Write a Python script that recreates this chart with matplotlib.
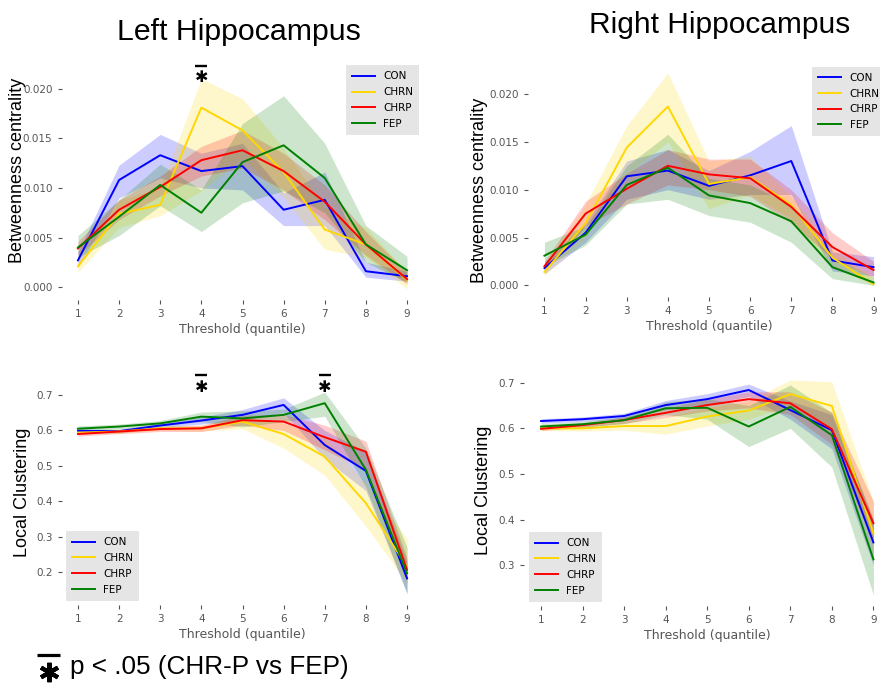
import matplotlib
matplotlib.use("Agg")
import matplotlib.pyplot as plt
import matplotlib.transforms as mtransforms

# ---------------- data ----------------
thresholds = [1, 2, 3, 4, 5, 6, 7, 8, 9]
groups = ["CON", "CHRN", "CHRP", "FEP"]
group_colors = ["blue", "gold", "red", "green"]

# Betweenness centrality, left hippocampus
bc_left_con = [0.0027, 0.0108, 0.0133, 0.0117, 0.0122, 0.0078, 0.0088, 0.0016, 0.0011]
bc_left_con_lo = [0.0020, 0.0090, 0.0110, 0.0100, 0.0098, 0.0062, 0.0062, 0.0010, 0.0006]
bc_left_con_hi = [0.0035, 0.0123, 0.0154, 0.0135, 0.0145, 0.0095, 0.0116, 0.0025, 0.0016]
bc_left_chrn = [0.0021, 0.0074, 0.0083, 0.0181, 0.0158, 0.0116, 0.0058, 0.0043, 0.0007]
bc_left_chrn_lo = [0.0015, 0.0060, 0.0072, 0.0097, 0.0130, 0.0090, 0.0038, 0.0030, -0.0002]
bc_left_chrn_hi = [0.0028, 0.0088, 0.0100, 0.0210, 0.0190, 0.0140, 0.0080, 0.0060, 0.0015]
bc_left_chrp = [0.0039, 0.0078, 0.0101, 0.0128, 0.0138, 0.0117, 0.0086, 0.0043, 0.0008]
bc_left_chrp_lo = [0.0032, 0.0068, 0.0092, 0.0112, 0.0120, 0.0098, 0.0068, 0.0032, 0.0003]
bc_left_chrp_hi = [0.0046, 0.0088, 0.0112, 0.0142, 0.0158, 0.0135, 0.0103, 0.0056, 0.0015]
bc_left_fep = [0.0040, 0.0071, 0.0103, 0.0075, 0.0126, 0.0143, 0.0110, 0.0043, 0.0017]
bc_left_fep_lo = [0.0030, 0.0052, 0.0082, 0.0056, 0.0085, 0.0097, 0.0075, 0.0025, 0.0005]
bc_left_fep_hi = [0.0052, 0.0088, 0.0124, 0.0098, 0.0165, 0.0193, 0.0145, 0.0062, 0.0031]

# Betweenness centrality, right hippocampus
bc_right_con = [0.0018, 0.0055, 0.0114, 0.0120, 0.0104, 0.0115, 0.0130, 0.0026, 0.0019]
bc_right_con_lo = [0.0012, 0.0045, 0.0090, 0.0100, 0.0090, 0.0095, 0.0095, 0.0015, 0.0010]
bc_right_con_hi = [0.0024, 0.0065, 0.0130, 0.0142, 0.0120, 0.0140, 0.0167, 0.0035, 0.0030]
bc_right_chrn = [0.0014, 0.0065, 0.0144, 0.0187, 0.0106, 0.0113, 0.0084, 0.0029, 0.0001]
bc_right_chrn_lo = [0.0010, 0.0050, 0.0115, 0.0150, 0.0080, 0.0095, 0.0070, 0.0020, 0.0000]
bc_right_chrn_hi = [0.0020, 0.0085, 0.0167, 0.0222, 0.0130, 0.0135, 0.0093, 0.0038, 0.0008]
bc_right_chrp = [0.0020, 0.0075, 0.0101, 0.0125, 0.0116, 0.0112, 0.0082, 0.0040, 0.0016]
bc_right_chrp_lo = [0.0015, 0.0062, 0.0085, 0.0105, 0.0100, 0.0093, 0.0065, 0.0028, 0.0008]
bc_right_chrp_hi = [0.0025, 0.0088, 0.0117, 0.0142, 0.0132, 0.0132, 0.0100, 0.0055, 0.0025]
bc_right_fep = [0.0031, 0.0053, 0.0105, 0.0123, 0.0094, 0.0086, 0.0067, 0.0019, 0.0003]
bc_right_fep_lo = [0.0020, 0.0042, 0.0085, 0.0090, 0.0073, 0.0066, 0.0045, 0.0007, 0.0000]
bc_right_fep_hi = [0.0045, 0.0062, 0.0125, 0.0158, 0.0112, 0.0105, 0.0085, 0.0030, 0.0008]

# Local clustering, left hippocampus
lc_left_con = [0.599, 0.598, 0.614, 0.628, 0.644, 0.672, 0.559, 0.486, 0.183]
lc_left_con_lo = [0.594, 0.593, 0.607, 0.618, 0.629, 0.650, 0.520, 0.430, 0.140]
lc_left_con_hi = [0.604, 0.603, 0.621, 0.638, 0.659, 0.692, 0.600, 0.540, 0.230]
lc_left_chrn = [0.594, 0.597, 0.606, 0.606, 0.625, 0.590, 0.526, 0.395, 0.216]
lc_left_chrn_lo = [0.589, 0.592, 0.600, 0.598, 0.605, 0.550, 0.474, 0.330, 0.170]
lc_left_chrn_hi = [0.599, 0.602, 0.612, 0.614, 0.640, 0.620, 0.580, 0.450, 0.295]
lc_left_chrp = [0.590, 0.597, 0.604, 0.606, 0.629, 0.625, 0.581, 0.540, 0.207]
lc_left_chrp_lo = [0.584, 0.591, 0.597, 0.597, 0.615, 0.600, 0.545, 0.490, 0.170]
lc_left_chrp_hi = [0.596, 0.603, 0.611, 0.615, 0.643, 0.645, 0.615, 0.570, 0.240]
lc_left_fep = [0.605, 0.611, 0.620, 0.639, 0.634, 0.644, 0.677, 0.489, 0.197]
lc_left_fep_lo = [0.597, 0.604, 0.612, 0.625, 0.610, 0.625, 0.640, 0.440, 0.140]
lc_left_fep_hi = [0.613, 0.618, 0.628, 0.652, 0.655, 0.660, 0.708, 0.550, 0.270]

# Local clustering, right hippocampus
lc_right_con = [0.616, 0.620, 0.627, 0.651, 0.664, 0.684, 0.640, 0.596, 0.350]
lc_right_con_lo = [0.611, 0.615, 0.621, 0.641, 0.652, 0.670, 0.620, 0.555, 0.300]
lc_right_con_hi = [0.621, 0.625, 0.633, 0.661, 0.676, 0.697, 0.660, 0.630, 0.400]
lc_right_chrn = [0.600, 0.600, 0.605, 0.605, 0.626, 0.639, 0.675, 0.649, 0.370]
lc_right_chrn_lo = [0.595, 0.594, 0.596, 0.587, 0.605, 0.620, 0.650, 0.600, 0.320]
lc_right_chrn_hi = [0.605, 0.606, 0.614, 0.625, 0.645, 0.660, 0.706, 0.702, 0.440]
lc_right_chrp = [0.599, 0.607, 0.618, 0.634, 0.651, 0.664, 0.655, 0.598, 0.392]
lc_right_chrp_lo = [0.595, 0.602, 0.611, 0.624, 0.638, 0.645, 0.630, 0.565, 0.350]
lc_right_chrp_hi = [0.603, 0.612, 0.625, 0.644, 0.664, 0.680, 0.680, 0.635, 0.440]
lc_right_fep = [0.604, 0.609, 0.618, 0.644, 0.645, 0.604, 0.647, 0.585, 0.313]
lc_right_fep_lo = [0.598, 0.603, 0.610, 0.630, 0.620, 0.560, 0.600, 0.515, 0.235]
lc_right_fep_hi = [0.610, 0.615, 0.626, 0.658, 0.665, 0.650, 0.695, 0.635, 0.400]

bc_left_ticks = [0.000, 0.005, 0.010, 0.015, 0.020]
bc_right_ticks = [0.000, 0.005, 0.010, 0.015, 0.020]
lc_left_ticks = [0.2, 0.3, 0.4, 0.5, 0.6, 0.7]
lc_right_ticks = [0.3, 0.4, 0.5, 0.6, 0.7]

sig_bc_left = [4]
sig_lc_left = [4, 7]

# ---------------- figure ----------------
W, H = 880, 684
fig = plt.figure(figsize=(W / 100, H / 100), dpi=100)
fig.patch.set_facecolor("white")

TICK_COLOR = "#555555"
STAR = (6, 2, 0)  # six-armed asterisk marker


def px_axes(left, top, right, bottom):
    return fig.add_axes([left / W, 1 - bottom / H, (right - left) / W, (bottom - top) / H])


def draw_panel(ax, means, los, his, ylim, yticks, ylabel, label_xy, legend_loc):
    for m, lo, hi, c, g in zip(means, los, his, group_colors, groups):
        ax.fill_between(thresholds, lo, hi, color=c, alpha=0.2, linewidth=0)
        ax.plot(thresholds, m, color=c, lw=1.4, label=g)
    ax.set_xlim(0.6, 9.4)
    ax.set_ylim(*ylim)
    ax.set_xticks(thresholds)
    ax.set_yticks(yticks)
    if max(yticks) < 0.1:
        ax.set_yticklabels([f"{t:.3f}" for t in yticks])
    else:
        ax.set_yticklabels([f"{t:.1f}" for t in yticks])
    for s in ax.spines.values():
        s.set_visible(False)
    ax.set_facecolor("white")
    ax.tick_params(colors=TICK_COLOR, labelsize=7.5, length=3, width=0.8)
    ax.set_xlabel("Threshold (quantile)", color=TICK_COLOR, fontsize=9, labelpad=3)
    ax.set_ylabel(ylabel, fontsize=13, family="Liberation Sans", color="black")
    ax.yaxis.set_label_coords(*label_xy)
    leg = ax.legend(loc=legend_loc, fontsize=7.5, frameon=True, fancybox=False,
                    handlelength=2.2, borderpad=0.6, labelspacing=0.55,
                    borderaxespad=0.4)
    leg.get_frame().set_facecolor("#E5E5E5")
    leg.get_frame().set_edgecolor("none")
    leg.get_frame().set_alpha(1.0)


def add_star(ax, x, yfrac_star, yfrac_bar):
    tr = mtransforms.blended_transform_factory(ax.transData, ax.transAxes)
    ax.text(x, yfrac_star, "\u2731", transform=tr, ha="center", va="center",
            fontsize=11.5, fontweight="bold", color="black", clip_on=False,
            family="DejaVu Sans")
    ax.plot([x - 0.145, x + 0.145], [yfrac_bar, yfrac_bar], transform=tr,
            color="black", lw=1.7, clip_on=False, solid_capstyle="butt")


ax_tl = px_axes(61.5, 61, 423.5, 300)
draw_panel(ax_tl,
           [bc_left_con, bc_left_chrn, bc_left_chrp, bc_left_fep],
           [bc_left_con_lo, bc_left_chrn_lo, bc_left_chrp_lo, bc_left_fep_lo],
           [bc_left_con_hi, bc_left_chrn_hi, bc_left_chrp_hi, bc_left_fep_hi],
           (-0.0013, 0.0228), bc_left_ticks, "Betweenness centrality",
           (-0.099, 0.544), "upper right")
for x in sig_bc_left:
    add_star(ax_tl, x, 0.93, 0.98)

ax_tr = px_axes(528, 62.5, 890, 297)
draw_panel(ax_tr,
           [bc_right_con, bc_right_chrn, bc_right_chrp, bc_right_fep],
           [bc_right_con_lo, bc_right_chrn_lo, bc_right_chrp_lo, bc_right_fep_lo],
           [bc_right_con_hi, bc_right_chrn_hi, bc_right_chrp_hi, bc_right_fep_hi],
           (-0.00122, 0.0233), bc_right_ticks, "Betweenness centrality",
           (-0.11, 0.456), "upper right")

ax_bl = px_axes(61.5, 381, 423.5, 605)
draw_panel(ax_bl,
           [lc_left_con, lc_left_chrn, lc_left_chrp, lc_left_fep],
           [lc_left_con_lo, lc_left_chrn_lo, lc_left_chrp_lo, lc_left_fep_lo],
           [lc_left_con_hi, lc_left_chrn_hi, lc_left_chrp_hi, lc_left_fep_hi],
           (0.1078, 0.7395), lc_left_ticks, "Local Clustering",
           (-0.084, 0.504), "lower left")
for x in sig_lc_left:
    add_star(ax_bl, x, 0.97, 1.027)

ax_br = px_axes(524.4, 370, 890, 606)
draw_panel(ax_br,
           [lc_right_con, lc_right_chrn, lc_right_chrp, lc_right_fep],
           [lc_right_con_lo, lc_right_chrn_lo, lc_right_chrp_lo, lc_right_fep_lo],
           [lc_right_con_hi, lc_right_chrn_hi, lc_right_chrp_hi, lc_right_fep_hi],
           (0.2108, 0.7278), lc_right_ticks, "Local Clustering",
           (-0.089, 0.49), "lower left")

# titles
fig.text(238.5 / W, 1 - 32 / H, "Left Hippocampus", ha="center", va="center",
         fontsize=21.8, family="Liberation Sans")
fig.text(720 / W, 1 - 25 / H, "Right Hippocampus", ha="center", va="center",
         fontsize=21.5, family="Liberation Sans")

# footnote
fig.add_artist(plt.Line2D([48.5 / W], [1 - 671.5 / H], marker=STAR, ms=14,
                          mew=3.0, color="black", linestyle="none",
                          transform=fig.transFigure))
fig.add_artist(plt.Line2D([37 / W, 60 / W], [1 - 655 / H, 1 - 655 / H],
                          color="black", lw=2.3, transform=fig.transFigure,
                          solid_capstyle="butt"))
fig.text(70 / W, 1 - 667 / H, "p < .05 (CHR-P vs FEP)", ha="left", va="center",
         fontsize=18.8, family="Liberation Sans")

fig.savefig("out.png", dpi=100)
